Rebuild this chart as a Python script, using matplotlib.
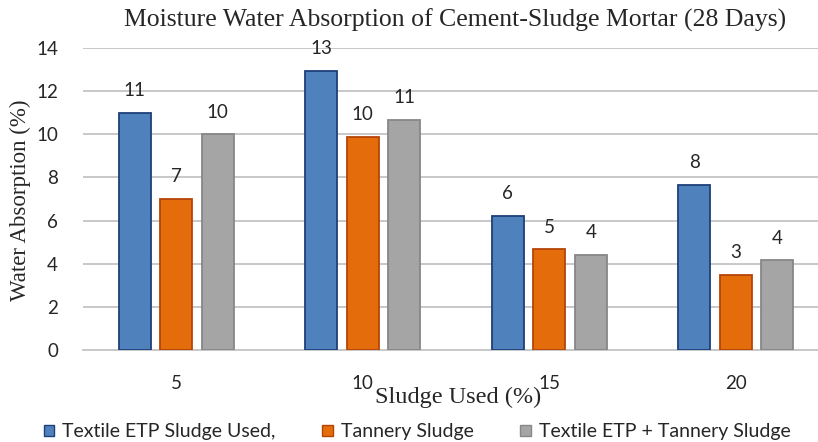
import matplotlib
matplotlib.use("Agg")
import matplotlib.pyplot as plt
import numpy as np
from matplotlib.patches import Patch

categories = ["5", "10", "15", "20"]
series_names = ["Textile ETP Sludge Used,", "Tannery Sludge", "Textile ETP + Tannery Sludge"]
textile = [11.0, 12.95, 6.22, 7.66]
tannery = [7.0, 9.87, 4.67, 3.48]
combined = [10.0, 10.67, 4.41, 4.15]
yticks = [0, 2, 4, 6, 8, 10, 12, 14]

colors = ["#4F81BD", "#E46C0A", "#A5A5A5"]
edges = ["#1F3F7A", "#B4450A", "#878787"]

W, H = 818, 442
fig = plt.figure(figsize=(W / 100, H / 100), dpi=100)
ax = fig.add_axes([83 / W, (H - 350) / H, (829 - 83) / W, (350 - 48) / H])

x = np.arange(len(categories))
pitch = 0.223
bw = 0.172
sans = ["Lato", "DejaVu Sans"]
serif = ["Liberation Serif", "DejaVu Serif"]

for i, (vals, c, ec) in enumerate(zip([textile, tannery, combined], colors, edges)):
    pos = x + (i - 1) * pitch
    bars = ax.bar(pos, vals, width=bw, color=c, edgecolor=ec, linewidth=1.3, zorder=3)
    for b, v in zip(bars, vals):
        ax.annotate(f"{v:.0f}", (b.get_x() + b.get_width() / 2, v),
                    xytext=(0, 16), textcoords="offset points",
                    ha="center", va="center", fontsize=13.5, color="#262626",
                    family=sans, zorder=4)

ax.set_xlim(-0.5, 3.5)
ax.set_ylim(0, 14)
ax.set_yticks(yticks)
ax.set_xticks(x)
ax.set_xticklabels(categories)
ax.grid(axis="y", color="#C8C8C8", linewidth=1.4, zorder=0)
for s in ["top", "right", "left"]:
    ax.spines[s].set_visible(False)
ax.spines["bottom"].set_color("#C8C8C8")
ax.spines["bottom"].set_linewidth(1.4)
ax.tick_params(axis="both", length=0, labelsize=13.5, labelcolor="#262626")
ax.tick_params(axis="y", pad=18)
ax.tick_params(axis="x", pad=18)
for lab in ax.get_xticklabels() + ax.get_yticklabels():
    lab.set_family(sans)

fig.text(455 / W, 1 - 20 / H, "Moisture Water Absorption of Cement-Sludge Mortar (28 Days)",
         ha="center", va="center", fontsize=18.5, family=serif, color="#262626")
fig.text(458 / W, 1 - 397 / H, "Sludge Used (%)", ha="center", va="center",
         fontsize=17.5, family=serif, color="#262626")
fig.text(20 / W, 1 - 200 / H, "Water Absorption (%)", ha="center", va="center",
         rotation=90, fontsize=16.5, family=serif, color="#262626")

handles = [Patch(facecolor=c, edgecolor=ec) for c, ec in zip(colors, edges)]
leg = fig.legend(handles, series_names, loc="center", bbox_to_anchor=(417 / W, 1 - 432 / H),
                 ncol=3, frameon=False, handlelength=0.55, handleheight=0.55,
                 handletextpad=0.4, columnspacing=2.4, prop={"family": sans, "size": 14})
for t in leg.get_texts():
    t.set_color("#262626")

fig.savefig("out.png", dpi=100)
